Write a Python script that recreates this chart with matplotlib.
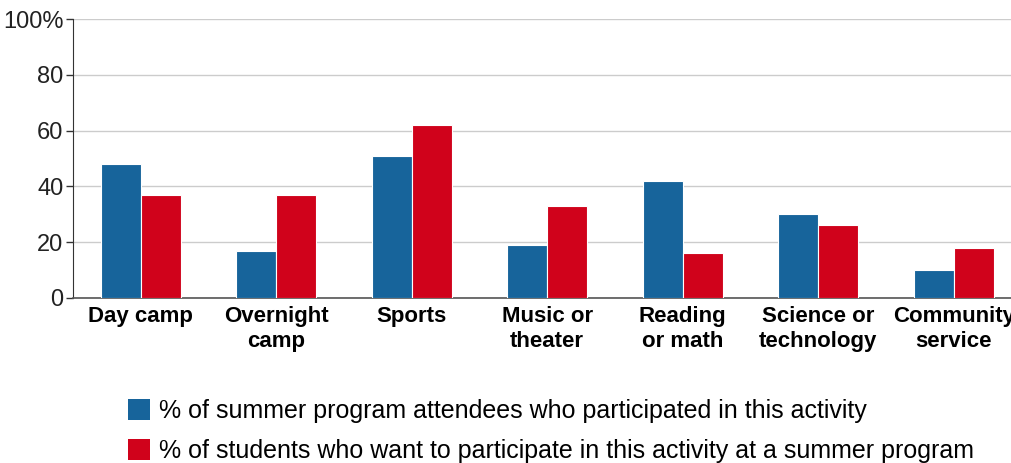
import matplotlib.pyplot as plt
import numpy as np
from matplotlib.patches import Patch

plt.rcParams['font.family'] = ['Liberation Sans', 'DejaVu Sans']

categories = ['Day camp', 'Overnight\ncamp', 'Sports', 'Music or\ntheater',
              'Reading\nor math', 'Science or\ntechnology', 'Community\nservice']
attended = [48, 17, 51, 19, 42, 30, 10]
wanted = [37, 37, 62, 33, 16, 26, 18]
series_labels = ['% of summer program attendees who participated in this activity',
                 '% of students who want to participate in this activity at a summer program']
yticks = [0, 20, 40, 60, 80, 100]
ytick_labels = ['0', '20', '40', '60', '80', '100%']

blue = '#17649b'
red = '#d0021b'

W, H = 1011, 463
fig = plt.figure(figsize=(W / 100, H / 100), dpi=100)
left, right, top, bottom = 73, 1021.5, 19, 298
ax = fig.add_axes([left / W, 1 - bottom / H, (right - left) / W, (bottom - top) / H])

x = np.arange(len(categories))
bw = 0.295
ax.bar(x - bw / 2, attended, bw, color=blue, edgecolor='white', linewidth=0.8, zorder=3)
ax.bar(x + bw / 2, wanted, bw, color=red, edgecolor='white', linewidth=0.8, zorder=3)

ax.set_xlim(-0.5, len(categories) - 0.5)
ax.set_ylim(0, 100)
ax.set_yticks(yticks)
ax.set_yticklabels(ytick_labels, fontsize=17, color='#222222')
ax.set_xticks(x)
ax.set_xticklabels(categories, fontsize=16, fontweight='bold', linespacing=1.25)
ax.tick_params(axis='x', length=0, pad=6)
ax.tick_params(axis='y', length=5, width=1, color='#333333', pad=2)
ax.grid(axis='y', color='#cccccc', linewidth=1, zorder=0)
for s in ['top', 'right']:
    ax.spines[s].set_visible(False)
ax.spines['left'].set_color('#333333')
ax.spines['bottom'].set_color('#555555')
ax.spines['bottom'].set_linewidth(1.2)

handles = [Patch(facecolor=blue), Patch(facecolor=red)]
fig.legend(handles, series_labels, loc='upper left', bbox_to_anchor=(118 / W, 1 - 389 / H),
           frameon=False, fontsize=18, handlelength=0.88, handleheight=0.88,
           handletextpad=0.35, labelspacing=0.65, borderaxespad=0)

fig.savefig('out.png', dpi=100)
